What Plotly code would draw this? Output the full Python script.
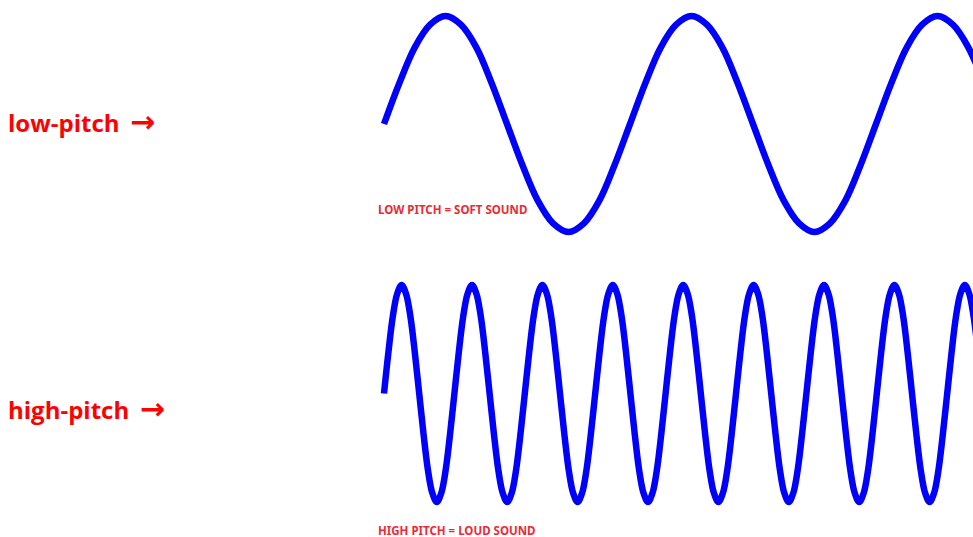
import plotly.graph_objects as go

# ---- data ----
# time (arbitrary units, 1 unit ~ 1 px of the original drawing) and amplitude (-1..1)
low_t = [0, 15.4, 30.8, 46.1, 61.5, 76.9, 92.3, 107.6,
         123.0, 138.4, 153.8, 169.1, 184.5, 199.9, 215.3, 230.6,
         246.0, 261.4, 276.8, 292.1, 307.5, 322.9, 338.3, 353.6,
         369.0, 384.4, 399.8, 415.1, 430.5, 445.9, 461.3, 476.6,
         492.0, 507.4, 522.8, 538.1, 553.5, 568.9, 584.3, 599.6]
low_amp = [0, 0.38, 0.71, 0.92, 1, 0.92, 0.71, 0.38,
           0, -0.38, -0.71, -0.92, -1, -0.92, -0.71, -0.38,
           0, 0.38, 0.71, 0.92, 1, 0.92, 0.71, 0.38,
           0, -0.38, -0.71, -0.92, -1, -0.92, -0.71, -0.38,
           0, 0.38, 0.71, 0.92, 1, 0.92, 0.71, 0.38]

high_t = [0, 4.4, 8.8, 13.2, 17.6, 22.0, 26.4, 30.8, 35.2, 39.6, 44.0, 48.4, 52.8, 57.2, 61.6, 66.0,
          70.4, 74.8, 79.2, 83.6, 88.0, 92.4, 96.8, 101.2, 105.6, 110.0, 114.4, 118.8, 123.2, 127.6, 132.0, 136.4,
          140.8, 145.2, 149.6, 154.0, 158.4, 162.8, 167.2, 171.6, 176.0, 180.4, 184.8, 189.2, 193.6, 198.0, 202.4, 206.8,
          211.2, 215.6, 220.0, 224.4, 228.8, 233.2, 237.6, 242.0, 246.4, 250.8, 255.2, 259.6, 264.0, 268.4, 272.8, 277.2,
          281.6, 286.0, 290.4, 294.8, 299.2, 303.6, 308.0, 312.4, 316.8, 321.2, 325.6, 330.0, 334.4, 338.8, 343.2, 347.6,
          352.0, 356.4, 360.8, 365.2, 369.6, 374.0, 378.4, 382.8, 387.2, 391.6, 396.0, 400.4, 404.8, 409.2, 413.6, 418.0,
          422.4, 426.8, 431.2, 435.6, 440.0, 444.4, 448.8, 453.2, 457.6, 462.0, 466.4, 470.8, 475.2, 479.6, 484.0, 488.4,
          492.8, 497.2, 501.6, 506.0, 510.4, 514.8, 519.2, 523.6, 528.0, 532.4, 536.8, 541.2, 545.6, 550.0, 554.4, 558.8,
          563.2, 567.6, 572.0, 576.4, 580.8, 585.2, 589.6, 594.0]
high_amp = [0, 0.38, 0.71, 0.92, 1, 0.92, 0.71, 0.38, 0, -0.38, -0.71, -0.92, -1, -0.92, -0.71, -0.38,
            0, 0.38, 0.71, 0.92, 1, 0.92, 0.71, 0.38, 0, -0.38, -0.71, -0.92, -1, -0.92, -0.71, -0.38,
            0, 0.38, 0.71, 0.92, 1, 0.92, 0.71, 0.38, 0, -0.38, -0.71, -0.92, -1, -0.92, -0.71, -0.38,
            0, 0.38, 0.71, 0.92, 1, 0.92, 0.71, 0.38, 0, -0.38, -0.71, -0.92, -1, -0.92, -0.71, -0.38,
            0, 0.38, 0.71, 0.92, 1, 0.92, 0.71, 0.38, 0, -0.38, -0.71, -0.92, -1, -0.92, -0.71, -0.38,
            0, 0.38, 0.71, 0.92, 1, 0.92, 0.71, 0.38, 0, -0.38, -0.71, -0.92, -1, -0.92, -0.71, -0.38,
            0, 0.38, 0.71, 0.92, 1, 0.92, 0.71, 0.38, 0, -0.38, -0.71, -0.92, -1, -0.92, -0.71, -0.38,
            0, 0.38, 0.71, 0.92, 1, 0.92, 0.71, 0.38, 0, -0.38, -0.71, -0.92, -1, -0.92, -0.71, -0.38,
            0, 0.38, 0.71, 0.92, 1, 0.92, 0.71, 0.38]

side_labels = ["low-pitch", "high-pitch"]
wave_captions = ["LOW PITCH = SOFT SOUND", "HIGH PITCH = LOUD SOUND"]

# ---- layout ----
W, H = 973, 537
BLUE = "#0000ff"


def px(x):
    return x / W


def py(y):
    return 1 - y / H


fig = go.Figure()
fig.add_trace(go.Scatter(x=low_t, y=low_amp, mode="lines", xaxis="x", yaxis="y",
                         line=dict(color=BLUE, width=6.5, shape="spline", smoothing=1),
                         hoverinfo="skip", showlegend=False))
fig.add_trace(go.Scatter(x=high_t, y=high_amp, mode="lines", xaxis="x", yaxis="y2",
                         line=dict(color=BLUE, width=6.5, shape="spline", smoothing=1),
                         hoverinfo="skip", showlegend=False))

# top wave: centre 124 px, amplitude 108 px; bottom wave: centre 393.5 px, amplitude 108.5 px
r = 1.1
top_c, top_a = 124, 108
bot_c, bot_a = 393.5, 108.5

ax_common = dict(visible=False, showgrid=False, zeroline=False, fixedrange=True)
fig.update_layout(
    width=W, height=H,
    margin=dict(l=0, r=0, t=0, b=0),
    paper_bgcolor="white", plot_bgcolor="white",
    xaxis=dict(domain=[0, 1], range=[-384, 589], anchor="y", **ax_common),
    yaxis=dict(domain=[py(top_c + r * top_a), py(top_c - r * top_a)],
               range=[-r, r], anchor="x", **ax_common),
    yaxis2=dict(domain=[py(bot_c + r * bot_a), py(bot_c - r * bot_a)],
                range=[-r, r], anchor="x", **ax_common),
    showlegend=False,
)

big_font = dict(family="Open Sans, DejaVu Sans", size=24, color="#ff0000")
arrow_html = ("<span style='font-family:DejaVu Sans;font-size:30px;font-weight:bold'>"
              " →</span>")

for label, ypix in zip(side_labels, [122, 408]):
    fig.add_annotation(text="<b>" + label + "</b>" + arrow_html, x=px(6), y=py(ypix),
                       xref="paper", yref="paper", xanchor="left", yanchor="middle",
                       showarrow=False, font=big_font)


def small_font():
    base = dict(family="Noto Sans, Liberation Sans", size=14, color="#ec2a34")
    try:
        go.layout.annotation.Font(stretch="condensed")
        base["stretch"] = "condensed"
    except Exception:
        base["size"] = 11.5
    return base


for cap, ypix in zip(wave_captions, [210, 530]):
    fig.add_annotation(text="<b>" + cap + "</b>", x=px(376), y=py(ypix), xref="paper",
                       yref="paper", xanchor="left", yanchor="middle", showarrow=False,
                       font=small_font())

fig.write_html("out.html", config={"displayModeBar": False})

# remove default page margin so the figure sits at the window's top-left corner
with open("out.html", "r", encoding="utf-8") as f:
    html = f.read()
html = html.replace("<head>",
                    "<head><style>html,body{margin:0;padding:0;overflow:hidden;}</style>", 1)
with open("out.html", "w", encoding="utf-8") as f:
    f.write(html)
